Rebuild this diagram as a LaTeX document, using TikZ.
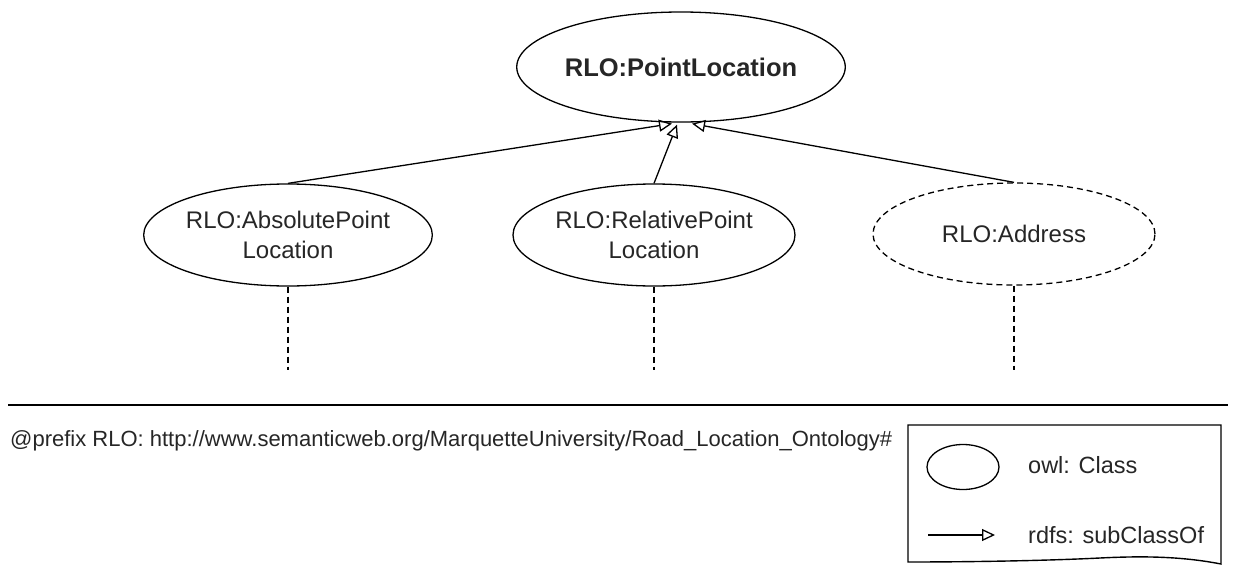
\documentclass[tikz,border=0pt]{standalone}
\usepackage{fontspec}
\setmainfont{Liberation Sans}
\usetikzlibrary{shapes.geometric,arrows.meta,calc}

\definecolor{ink}{HTML}{262626}

\tikzset{
  cls/.style={ellipse, draw=black, line width=1.3pt, inner sep=0pt,
    minimum width=282pt, minimum height=102pt, align=center,
    text=ink, font=\fontsize{24}{30}\selectfont},
  futurecls/.style={cls, dash pattern=on 6pt off 4pt},
  subclass/.style={draw=black, line width=1.3pt,
    -{Triangle[open, length=13pt, width=12pt, line width=1.3pt]}},
  more/.style={draw=black, line width=1.3pt, dash pattern=on 6pt off 4pt},
  legendtext/.style={anchor=west, text=ink, inner sep=0pt,
    font=\fontsize{23.5}{28}\selectfont},
}

\begin{document}
\begin{tikzpicture}[x=1pt, y=-1pt]
  \useasboundingbox (0,0) rectangle (1235,565);

  % class hierarchy
  \node[cls, minimum width=256pt, minimum height=110pt,
        font=\fontsize{25.5}{30}\selectfont\bfseries] (top) at (681,67) {RLO:PointLocation};
  \node[cls] (abs) at (288,235) {RLO:AbsolutePoint\\Location};
  \node[cls] (rel) at (654,235) {RLO:RelativePoint\\Location};
  \node[futurecls] (addr) at (1014,234) {RLO:Address};

  \coordinate (tipL) at ($(top.south)+(-9,1)$);
  \coordinate (tipM) at ($(top.south)+(-4,2)$);
  \coordinate (tipR) at ($(top.south)+(11,1)$);

  \draw[subclass] (abs.north) -- (tipL);
  \draw[subclass] (rel.north) -- (tipM);
  \draw[subclass] (addr.north) -- (tipR);

  % open-ended continuations
  \coordinate (absEnd) at (288,370);
  \coordinate (relEnd) at (654,370);
  \coordinate (addrEnd) at (1014,370);
  \draw[more] (abs.south) -- (absEnd);
  \draw[more] (rel.south) -- (relEnd);
  \draw[more] (addr.south) -- (addrEnd);

  % separator
  \coordinate (sepL) at (8,405);
  \coordinate (sepR) at (1228,405);
  \draw[line width=1.5pt] (sepL) -- (sepR);

  % namespace prefix
  \node[anchor=west, inner sep=0pt, text=ink, font=\fontsize{22}{26}\selectfont] (prefix) at (10,441)
    {@prefix RLO: http://www.semanticweb.org/MarquetteUniversity/Road\_Location\_Ontology\#};

  % legend (document shape)
  \draw[line width=1.4pt] (908,425) -- (1221,425) -- (1221,564)
    .. controls (1180,556) and (1140,556) .. (1100,558)
    .. controls (1040,561) and (960,562) .. (908,562) -- cycle;
  \node[ellipse, draw=black, line width=1.3pt, minimum width=72pt, minimum height=45pt,
        inner sep=0pt] (lgCls) at (963,467) {};
  \node[legendtext] (lgClsText) at (1028,465) {owl: Class};
  \coordinate (lgArrA) at (928,535);
  \node[legendtext] (lgSubText) at (1028,535) {rdfs: subClassOf};
  \coordinate (lgArrB) at (995,535);
  \draw[subclass] (lgArrA) -- (lgArrB);
\end{tikzpicture}
\end{document}
